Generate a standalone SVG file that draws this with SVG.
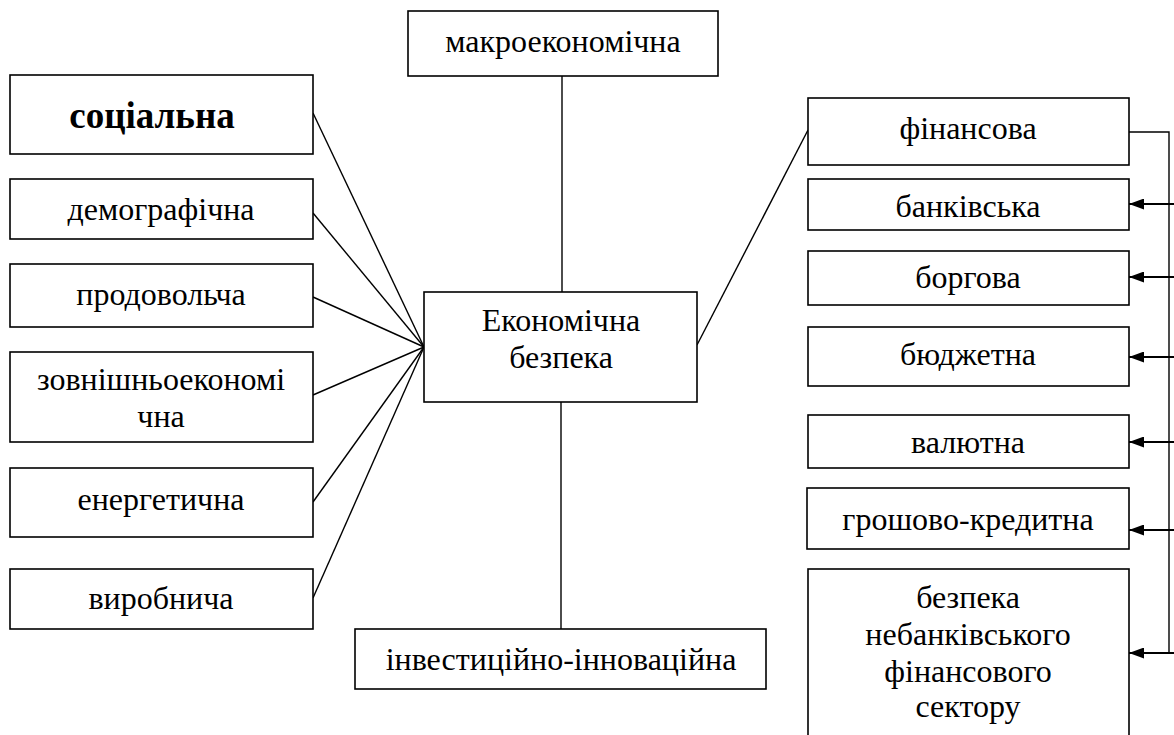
<svg xmlns="http://www.w3.org/2000/svg" width="1174" height="735" viewBox="0 0 1174 735">
<style>
.box{fill:#fff;stroke:#000;stroke-width:1.6}
.t{font-family:"Liberation Serif","Times New Roman",serif;font-size:32px;fill:#000;text-anchor:middle}
.b{font-weight:bold;font-size:37px}
.c{stroke:#000;stroke-width:1.4;fill:none}
.a{stroke:#000;stroke-width:2;fill:none}
</style>
<defs>
<marker id="ah" markerWidth="15" markerHeight="11" refX="15" refY="5.5" orient="auto" markerUnits="userSpaceOnUse">
<path d="M0,0 L15,5.5 L0,11 Z" fill="#000"/>
</marker>
</defs>
<rect width="1174" height="735" fill="#fff"/>
<g id="connectors">
<line class="c" x1="313" y1="113" x2="424" y2="347"/>
<line class="c" x1="313" y1="213" x2="424" y2="347"/>
<line class="c" x1="313" y1="297" x2="424" y2="347"/>
<line class="c" x1="313" y1="395" x2="424" y2="347"/>
<line class="c" x1="313" y1="502" x2="424" y2="347"/>
<line class="c" x1="313" y1="598" x2="424" y2="347"/>
<line class="c" x1="562" y1="76" x2="562" y2="292"/>
<line class="c" x1="561" y1="402" x2="561" y2="629"/>
<line class="c" x1="697" y1="345" x2="808" y2="130"/>
<polyline class="c" points="1129,132 1169,132 1169,653"/>
<line class="a" x1="1174" y1="204" x2="1129" y2="204" marker-end="url(#ah)"/>
<line class="a" x1="1174" y1="277" x2="1129" y2="277" marker-end="url(#ah)"/>
<line class="a" x1="1174" y1="357" x2="1129" y2="357" marker-end="url(#ah)"/>
<line class="a" x1="1174" y1="442" x2="1129" y2="442" marker-end="url(#ah)"/>
<line class="a" x1="1174" y1="530" x2="1129" y2="530" marker-end="url(#ah)"/>
<line class="a" x1="1174" y1="653" x2="1129" y2="653" marker-end="url(#ah)"/>
</g>
<g id="n-social"><rect class="box" x="10" y="75" width="303" height="79"/><text class="t b" x="152" y="128">соціальна</text></g>
<g id="n-demo"><rect class="box" x="10" y="179" width="303" height="60"/><text class="t" x="161" y="220">демографічна</text></g>
<g id="n-food"><rect class="box" x="10" y="264" width="303" height="63"/><text class="t" x="161" y="305">продовольча</text></g>
<g id="n-foreign"><rect class="box" x="10" y="352" width="303" height="90"/><text class="t" x="161" y="390">зовнішньоекономі</text><text class="t" x="161" y="427">чна</text></g>
<g id="n-energy"><rect class="box" x="10" y="468" width="303" height="69"/><text class="t" x="161" y="510">енергетична</text></g>
<g id="n-prod"><rect class="box" x="10" y="569" width="303" height="60"/><text class="t" x="161" y="609">виробнича</text></g>
<g id="n-macro"><rect class="box" x="408" y="11" width="310" height="65"/><text class="t" x="563" y="52">макроекономічна</text></g>
<g id="n-center"><rect class="box" x="424" y="292" width="273" height="110"/><text class="t" x="561" y="331">Економічна</text><text class="t" x="561" y="368">безпека</text></g>
<g id="n-invest"><rect class="box" x="355" y="629" width="411" height="60"/><text class="t" x="561" y="670">інвестиційно-інноваційна</text></g>
<g id="n-fin"><rect class="box" x="808" y="98" width="321" height="67"/><text class="t" x="968" y="139">фінансова</text></g>
<g id="n-bank"><rect class="box" x="808" y="179" width="321" height="51"/><text class="t" x="968" y="217">банківська</text></g>
<g id="n-debt"><rect class="box" x="808" y="251" width="321" height="54"/><text class="t" x="968" y="288">боргова</text></g>
<g id="n-budget"><rect class="box" x="808" y="327" width="321" height="59"/><text class="t" x="968" y="365">бюджетна</text></g>
<g id="n-currency"><rect class="box" x="808" y="415" width="321" height="53"/><text class="t" x="968" y="453">валютна</text></g>
<g id="n-money"><rect class="box" x="807" y="488" width="322" height="61"/><text class="t" x="968" y="530">грошово-кредитна</text></g>
<g id="n-nonbank"><rect class="box" x="808" y="569" width="321" height="180"/><text class="t" x="968" y="608">безпека</text><text class="t" x="968" y="645">небанківського</text><text class="t" x="968" y="682">фінансового</text><text class="t" x="968" y="717">сектору</text></g>
</svg>
